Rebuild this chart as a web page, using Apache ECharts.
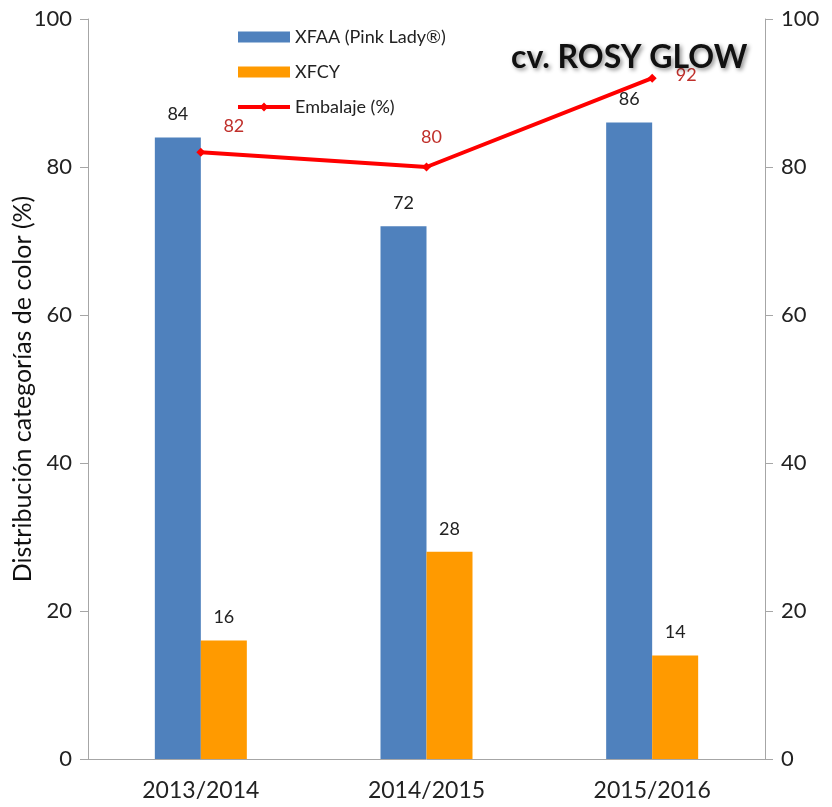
<!DOCTYPE html>
<html>
<head>
<meta charset="utf-8">
<script src="https://cdn.jsdelivr.net/npm/echarts@6/dist/echarts.min.js"></script>
<style>
  html, body { margin: 0; padding: 0; background: #fff; }
  #chart { width: 832px; height: 807px; }
</style>
</head>
<body>
<div id="chart"></div>
<script>
// datos
const temporadas = ['2013/2014', '2014/2015', '2015/2016']
const xfaa = [84, 72, 86]
const xfcy = [16, 28, 14]
const embalaje = [82, 80, 92]
const ticksY = [0, 20, 40, 60, 80, 100]

// desplazamiento de las etiquetas de la línea (como en el original)
const offsetsEtiqueta = [[33, -8], [5, -11], [34, 15]]

const FONT = 'Lato'

const chart = echarts.init(document.getElementById('chart'))

const ejeY = (pos) => ({
  type: 'value',
  position: pos,
  min: ticksY[0],
  max: ticksY[ticksY.length - 1],
  interval: 20,
  axisLine: { show: true, lineStyle: { color: '#a6a6a6', width: 1 } },
  axisTick: { show: true, length: 8, lineStyle: { color: '#a6a6a6' } },
  axisLabel: { color: '#222', fontSize: 22, fontFamily: FONT, margin: 16 },
  splitLine: { show: false }
})

const option = {
  animation: false,
  backgroundColor: '#fff',
  textStyle: { fontFamily: FONT },
  title: {
    text: 'cv. ROSY GLOW',
    left: 506,
    top: 37,
    textStyle: {
      fontFamily: FONT,
      fontSize: 32,
      fontWeight: 'bold',
      color: '#111',
      textShadowColor: 'rgba(0,0,0,0.45)',
      textShadowBlur: 4,
      textShadowOffsetX: 2,
      textShadowOffsetY: 2
    }
  },
  legend: {
    orient: 'vertical',
    left: 236,
    top: 28,
    padding: 0,
    itemWidth: 52,
    itemHeight: 11,
    itemGap: 17,
    textStyle: { fontSize: 18, color: '#222', fontFamily: FONT },
    data: [
      { name: 'XFAA (Pink Lady®)', icon: 'rect' },
      { name: 'XFCY', icon: 'rect' },
      { name: 'Embalaje (%)', lineStyle: { width: 4 } }
    ]
  },
  grid: { left: 88, right: 67, top: 19, bottom: 48, outerBoundsMode: 'none' },
  xAxis: {
    type: 'category',
    data: temporadas,
    axisLine: { show: true, lineStyle: { color: '#a6a6a6' } },
    axisTick: { show: false },
    axisLabel: { color: '#222', fontSize: 23, fontFamily: FONT, margin: 20 }
  },
  yAxis: [
    Object.assign(ejeY('left'), {
      name: 'Distribución categorías de color (%)',
      nameLocation: 'middle',
      nameGap: 53,
      nameMoveOverlap: false,
      nameTextStyle: { color: '#111', fontSize: 25, fontFamily: FONT }
    }),
    ejeY('right')
  ],
  series: [
    {
      name: 'XFAA (Pink Lady®)',
      type: 'bar',
      data: xfaa,
      barWidth: 46,
      barGap: '0%',
      itemStyle: { color: '#4f81bd' },
      label: { show: true, position: 'top', distance: 14, color: '#222', fontSize: 18, fontFamily: FONT }
    },
    {
      name: 'XFCY',
      type: 'bar',
      data: xfcy,
      barWidth: 46,
      barGap: '0%',
      itemStyle: { color: '#ff9a00' },
      label: { show: true, position: 'top', distance: 14, color: '#222', fontSize: 18, fontFamily: FONT }
    },
    {
      name: 'Embalaje (%)',
      type: 'line',
      yAxisIndex: 1,
      data: embalaje.map((v, i) => ({ value: v, label: { offset: offsetsEtiqueta[i] } })),
      symbol: 'diamond',
      symbolSize: 9,
      lineStyle: { color: '#ff0000', width: 4 },
      itemStyle: { color: '#ff0000' },
      label: { show: true, position: 'top', color: '#c0302b', fontSize: 18, fontFamily: FONT }
    }
  ]
}

chart.setOption(option)
</script>
</body>
</html>
